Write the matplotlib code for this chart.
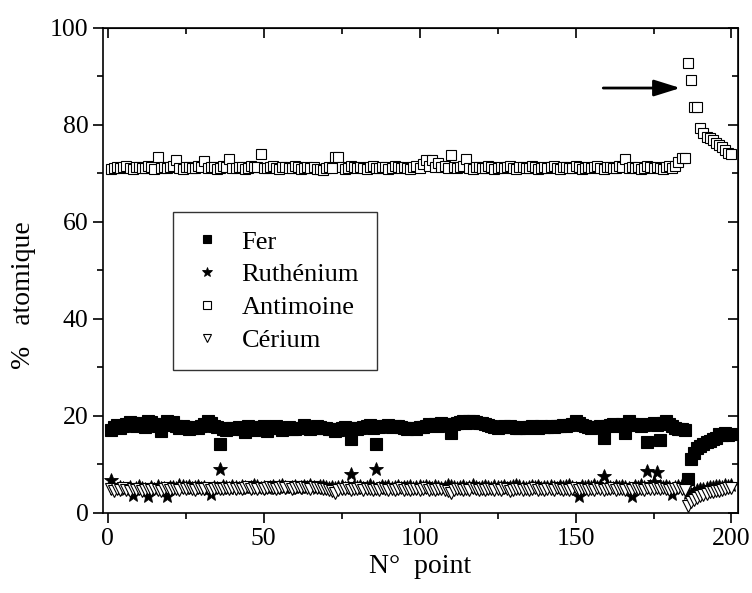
import numpy as np
import matplotlib
matplotlib.use("Agg")
import matplotlib.pyplot as plt
from matplotlib.ticker import MultipleLocator

plt.rcParams['font.family'] = ['Liberation Serif', 'DejaVu Serif']

# point numbers 1..200
points = np.arange(1, 201)

fer = [
    17.0, 17.8, 18.2, 17.6, 18.0, 18.4, 18.8, 18.5, 17.9, 18.2, 18.6, 17.8, 19.0, 18.7, 18.3, 17.9, 16.9, 18.4, 18.9, 18.2,
    18.8, 18.0, 17.6, 17.9, 17.7, 17.4, 17.5, 17.8, 17.6, 18.0, 18.4, 18.9, 18.5, 18.0, 17.8, 14.2, 17.3, 17.2, 17.5, 17.6,
    17.4, 17.8, 17.3, 16.6, 17.9, 17.6, 17.2, 17.8, 17.7, 18.0, 16.9, 17.5, 17.7, 17.9, 17.6, 17.0, 17.5, 17.8, 17.4, 17.3,
    17.6, 17.5, 18.1, 17.8, 17.4, 17.5, 17.9, 17.7, 17.5, 17.6, 17.4, 17.3, 16.8, 17.2, 17.6, 17.8, 17.5, 15.3, 17.6, 17.4,
    17.5, 17.8, 17.9, 18.2, 17.6, 14.2, 17.7, 18.0, 17.9, 18.2, 17.8, 17.9, 18.0, 17.7, 17.6, 17.3, 17.5, 17.6, 17.4, 17.7,
    17.8, 18.0, 18.3, 18.2, 18.4, 17.9, 18.5, 18.3, 18.1, 16.4, 18.4, 18.6, 18.7, 18.9, 18.6, 18.9, 19.0, 18.8, 18.6, 18.5,
    18.4, 18.2, 18.0, 17.8, 17.6, 17.8, 17.9, 17.7, 18.0, 17.8, 17.6, 17.5, 17.7, 17.6, 17.8, 17.9, 17.7, 17.6, 17.9, 17.8,
    17.7, 17.9, 17.8, 18.0, 17.9, 18.1, 18.0, 18.2, 18.4, 19.0, 18.5, 18.2, 17.9, 17.8, 17.6, 17.8, 17.7, 17.9, 15.5, 18.0,
    18.2, 18.4, 18.1, 17.9, 18.3, 16.5, 19.0, 18.4, 18.1, 18.3, 18.0, 18.2, 14.7, 18.3, 18.5, 18.1, 15.1, 18.6, 18.9, 18.4,
    18.0, 17.6, 17.4, 17.3, 17.0, 7.1, 11.2, 12.4, 13.4, 13.9, 14.3, 14.6, 14.9, 15.2, 15.5, 16.3, 16.0, 16.4, 16.1, 16.3,
]

ruthenium = [
    6.8, 5.2, 4.9, 5.4, 5.1, 5.0, 5.3, 3.6, 5.2, 5.5, 5.1, 4.9, 3.5, 5.3, 5.0, 5.6, 5.2, 5.1, 3.5, 5.3,
    5.4, 5.2, 5.7, 5.5, 5.3, 5.6, 5.2, 5.4, 5.5, 5.1, 5.3, 5.0, 3.9, 5.4, 5.2, 9.1, 5.6, 5.3, 5.1, 5.5,
    5.3, 5.2, 5.6, 5.4, 5.1, 5.3, 5.7, 5.5, 5.2, 5.4, 5.1, 5.3, 5.5, 5.2, 5.6, 5.8, 5.3, 5.1, 5.4, 5.5,
    5.2, 5.3, 5.6, 5.4, 5.7, 5.3, 5.1, 5.5, 5.6, 5.3, 5.2, 5.4, 5.1, 5.3, 5.5, 5.2, 5.4, 8.1, 5.6, 5.3,
    5.5, 5.2, 5.4, 5.7, 5.3, 9.1, 5.1, 5.5, 5.3, 5.6, 5.2, 5.4, 5.5, 5.1, 5.3, 5.4, 5.6, 5.2, 5.3, 5.5,
    5.3, 5.6, 5.4, 5.2, 5.5, 5.3, 5.1, 5.4, 5.8, 5.6, 5.3, 5.2, 5.4, 5.5, 5.1, 5.3, 5.7, 5.4, 5.2, 5.3,
    5.5, 5.3, 5.2, 5.6, 5.4, 5.3, 5.5, 5.1, 5.4, 5.6, 5.7, 5.5, 5.3, 5.2, 5.4, 5.5, 5.3, 5.6, 5.2, 5.4,
    5.3, 5.5, 5.4, 5.2, 5.6, 5.3, 5.5, 5.7, 5.4, 5.2, 3.5, 5.5, 5.3, 5.6, 5.4, 5.8, 5.3, 5.6, 7.7, 5.7,
    5.4, 5.2, 5.5, 5.3, 5.6, 5.4, 5.2, 3.5, 5.5, 5.3, 5.7, 5.4, 8.7, 5.6, 6.4, 8.5, 5.5, 5.3, 5.6, 5.4,
    3.9, 5.3, 5.5, 5.7, 5.4, 4.2, 4.0, 4.4, 4.7, 4.9, 5.0, 5.2, 5.3, 5.4, 5.5, 5.6, 5.4, 5.7, 5.5, 5.8,
]

antimoine = [
    71.0, 71.2, 71.4, 71.1, 71.3, 71.5, 71.2, 71.0, 71.3, 71.4, 71.1, 71.2, 71.5, 71.3, 71.0, 73.3, 71.2, 71.4, 71.1, 71.3,
    71.5, 72.7, 71.2, 71.0, 71.3, 71.4, 71.1, 71.2, 71.5, 71.3, 72.5, 71.1, 71.3, 71.4, 71.0, 71.2, 71.5, 71.3, 73.0, 71.2,
    71.1, 71.4, 71.3, 71.0, 71.2, 71.5, 71.3, 71.4, 74.0, 71.2, 71.1, 71.3, 71.5, 71.2, 71.0, 71.3, 71.4, 71.1, 71.2, 71.5,
    71.3, 71.0, 71.2, 71.4, 71.1, 71.3, 71.0, 70.9, 70.7, 71.2, 71.4, 71.1, 73.4, 73.4, 71.3, 71.0, 71.2, 71.5, 71.3, 71.1,
    71.4, 71.2, 71.0, 71.3, 71.5, 71.2, 71.1, 71.4, 71.3, 71.0, 71.2, 71.5, 71.3, 71.1, 71.4, 71.2, 71.0, 71.3, 71.5, 71.2,
    72.0, 72.8, 71.6, 72.7, 71.4, 72.1, 71.3, 71.6, 71.2, 73.7, 71.4, 71.1, 71.3, 71.5, 72.9, 71.2, 71.0, 71.3, 71.4, 71.1,
    71.2, 71.5, 71.3, 71.0, 71.2, 71.4, 71.1, 71.3, 71.5, 71.2, 71.0, 71.3, 71.4, 71.1, 71.2, 71.5, 71.3, 71.0, 71.2, 71.4,
    71.1, 71.3, 71.5, 71.2, 71.0, 71.3, 71.4, 71.1, 71.2, 71.5, 71.3, 71.0, 71.2, 71.4, 71.1, 71.3, 71.5, 71.2, 71.0, 71.3,
    71.4, 71.1, 71.2, 71.5, 71.3, 73.0, 71.2, 71.4, 71.1, 71.3, 71.0, 71.2, 71.5, 71.3, 71.1, 71.4, 71.2, 71.0, 71.3, 71.5,
    71.2, 71.6, 72.4, 73.2, 73.2, 92.7, 89.3, 83.6, 83.6, 79.3, 78.4, 77.6, 77.3, 76.8, 76.3, 75.9, 75.4, 74.9, 74.2, 73.9,
]

cerium = [
    5.0, 4.6, 4.9, 4.7, 5.1, 4.8, 4.5, 4.9, 4.7, 5.0, 4.6, 4.8, 4.9, 4.7, 5.0, 4.8, 4.6, 4.9, 5.1, 4.8,
    4.9, 5.0, 4.8, 5.1, 4.9, 5.2, 5.0, 4.8, 5.1, 4.9, 5.0, 5.2, 4.8, 5.0, 5.1, 4.9, 5.0, 5.2, 4.9, 5.1,
    5.0, 5.2, 4.9, 5.1, 5.3, 5.0, 5.2, 4.9, 5.1, 5.0, 5.2, 5.3, 5.1, 5.0, 5.2, 5.4, 5.1, 5.3, 5.0, 5.2,
    5.3, 5.1, 5.4, 5.2, 5.0, 5.3, 5.1, 5.2, 5.0, 4.9, 4.8, 4.6, 4.2, 4.8, 5.0, 4.9, 5.1, 4.8, 5.0, 4.9,
    5.1, 4.8, 5.0, 4.9, 4.7, 5.0, 4.8, 5.1, 4.9, 4.7, 5.0, 4.8, 4.9, 5.1, 4.8, 5.0, 4.7, 4.9, 5.0, 4.8,
    4.9, 5.1, 4.8, 5.0, 4.7, 4.9, 5.0, 4.8, 4.5, 4.2, 4.8, 5.0, 4.9, 4.7, 5.0, 4.8, 5.1, 4.9, 4.7, 5.0,
    4.8, 5.0, 4.9, 4.7, 5.0, 4.8, 5.1, 4.9, 4.6, 4.8, 5.0, 4.9, 4.7, 5.0, 4.8, 4.9, 5.1, 4.8, 5.0, 4.7,
    4.9, 5.0, 4.8, 5.1, 4.9, 4.7, 5.0, 4.8, 4.9, 5.1, 4.8, 5.0, 4.9, 4.7, 5.0, 4.8, 5.1, 4.9, 4.8, 5.0,
    4.9, 5.1, 4.8, 5.0, 4.9, 4.7, 5.0, 4.8, 5.1, 4.9, 5.0, 4.8, 5.1, 4.9, 5.0, 5.2, 4.9, 5.1, 5.0, 4.8,
    5.0, 4.9, 5.1, 5.0, 4.8, 1.5, 2.2, 2.6, 3.0, 3.5, 3.8, 4.0, 4.3, 4.4, 4.6, 4.5, 4.8, 4.9, 5.1, 5.2,
]

labels = ["Fer", "Ruthénium", "Antimoine", "Cérium"]

fig = plt.figure(figsize=(7.52, 5.93), dpi=100)
ax = fig.add_axes([0.137, 0.135, 0.844, 0.818])

ax.plot(points, fer, 's', ms=8, mfc='black', mec='black', mew=0.8, label=labels[0])
ax.plot(points, ruthenium, '*', ms=10, mfc='black', mec='black', mew=0.6, label=labels[1])
ax.plot(points, antimoine, 's', ms=7.5, mfc='white', mec='black', mew=0.8, label=labels[2])
ax.plot(points, cerium, 'v', ms=8.5, mfc='white', mec='black', mew=0.8, label=labels[3])

# arrow pointing at the Antimoine jump
ax.annotate('', xy=(184.5, 87.6), xytext=(158, 87.6),
            arrowprops=dict(arrowstyle='-|>,head_length=0.8,head_width=0.25',
                            mutation_scale=20, lw=2, color='black'))

ax.set_xlim(-1.5, 202)
ax.set_ylim(0, 100)
ax.xaxis.set_major_locator(MultipleLocator(50))
ax.xaxis.set_minor_locator(MultipleLocator(25))
ax.yaxis.set_major_locator(MultipleLocator(20))
ax.yaxis.set_minor_locator(MultipleLocator(10))

for s in ax.spines.values():
    s.set_linewidth(1.2)
ax.tick_params(which='both', direction='out', top=False, right=False, labelsize=18.5, width=1.2)
ax.tick_params(which='major', length=7)
ax.tick_params(which='minor', length=4)
# mirrored ticks on top / right, pointing inward
sec_x = ax.secondary_xaxis('top')
sec_x.xaxis.set_major_locator(MultipleLocator(50))
sec_x.xaxis.set_minor_locator(MultipleLocator(25))
sec_x.tick_params(which='both', direction='in', labeltop=False, width=1.2)
sec_x.tick_params(which='major', length=7)
sec_x.tick_params(which='minor', length=4)
sec_y = ax.secondary_yaxis('right')
sec_y.yaxis.set_major_locator(MultipleLocator(20))
sec_y.yaxis.set_minor_locator(MultipleLocator(10))
sec_y.tick_params(which='both', direction='in', labelright=False, width=1.2)
sec_y.tick_params(which='major', length=7)
sec_y.tick_params(which='minor', length=4)

ax.set_xlabel("N°  point", fontsize=20, labelpad=3)
ax.set_ylabel("%   atomique", fontsize=20)
ax.yaxis.set_label_coords(-0.105, 0.45)

leg = ax.legend(loc='upper left', bbox_to_anchor=(0.110, 0.621), fontsize=19,
                frameon=True, fancybox=False, edgecolor='black', markerscale=0.75,
                handlelength=1.2, handletextpad=0.7, labelspacing=0.35,
                borderpad=0.7, borderaxespad=0)
leg.get_frame().set_linewidth(1.0)

plt.savefig("out.png", dpi=100)
